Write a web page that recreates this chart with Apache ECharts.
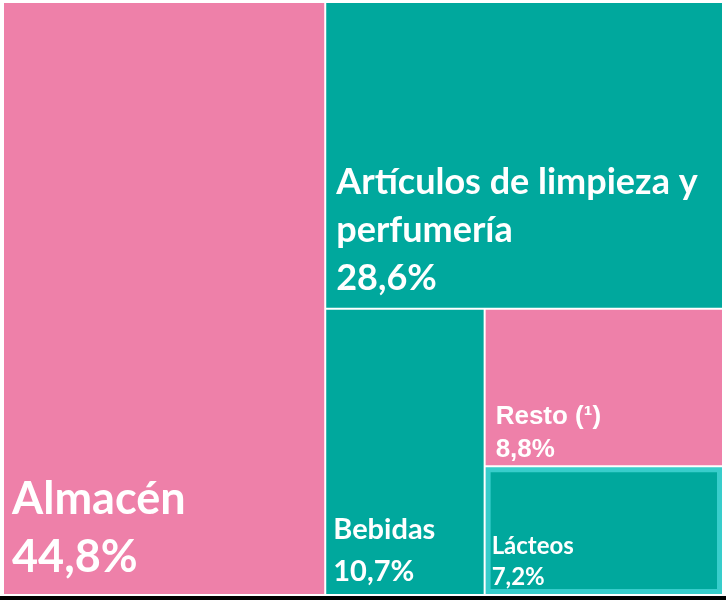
<!DOCTYPE html>
<html>
<head>
<meta charset="utf-8">
<script src="https://cdn.jsdelivr.net/npm/echarts@6/dist/echarts.min.js"></script>
<style>html,body{margin:0;padding:0;background:#fff}#c{width:726px;height:600px}</style>
</head>
<body>
<div id="c"></div>
<script>
const categories = ['Almacén', 'Artículos de limpieza y perfumería', 'Bebidas', 'Resto (¹)', 'Lácteos'];
const values = [44.8, 28.6, 10.7, 8.8, 7.2];

const PINK = '#EE80A9', TEAL = '#00A89D';
const colors = [PINK, TEAL, TEAL, PINK, TEAL];
const labelStyles = [
  {fontSize: 45, lineHeight: 58, distance: 8, offset: [0, 0]},
  {fontSize: 36, lineHeight: 48, distance: 10, offset: [0, 5]},
  {fontSize: 29, lineHeight: 42, distance: 7, offset: [0, 6]},
  {fontSize: 26, lineHeight: 33, distance: 10, offset: [0, 11], fontFamily: 'Liberation Sans'},
  {fontSize: 24, lineHeight: 31, distance: 4, offset: [-3, 8]}
];

// wrap long names into lines of at most ~24 characters
function wrap(name) {
  const words = name.split(' ');
  const lines = [];
  let cur = '';
  words.forEach(w => {
    const t = cur ? cur + ' ' + w : w;
    if (t.length > 24 && cur) { lines.push(cur); cur = w; } else { cur = t; }
  });
  if (cur) lines.push(cur);
  return lines.join('\n');
}

const data = categories.map((name, i) => {
  const item = {
    name: name,
    value: values[i],
    itemStyle: {color: colors[i]},
    label: Object.assign({}, labelStyles[i])
  };
  if (name === 'Lácteos') {
    item.itemStyle.borderColor = '#38CDCB';
    item.itemStyle.borderWidth = 5;
  }
  return item;
});

const chart = echarts.init(document.getElementById('c'), null, {renderer: 'canvas'});
chart.setOption({
  animation: false,
  backgroundColor: '#fff',
  graphic: [{
    type: 'rect', left: 0, bottom: 0,
    shape: {width: 726, height: 4},
    style: {fill: '#000'}
  }],
  series: [{
    type: 'treemap',
    left: 4, top: 3, right: 4, bottom: 6,
    roam: false,
    nodeClick: false,
    squareRatio: 1,
    breadcrumb: {show: false},
    sort: 'desc',
    itemStyle: {gapWidth: 2, borderWidth: 0, borderColor: '#fff'},
    upperLabel: {show: false},
    label: {
      show: true,
      position: 'insideBottomLeft',
      color: '#fff',
      fontFamily: 'Lato',
      fontWeight: 'bold',
      padding: 0,
      overflow: 'none',
      formatter: p => wrap(p.name) + '\n' + String(p.value).replace('.', ',') + '%'
    },
    emphasis: {disabled: true},
    data: data
  }]
});
</script>
</body>
</html>
